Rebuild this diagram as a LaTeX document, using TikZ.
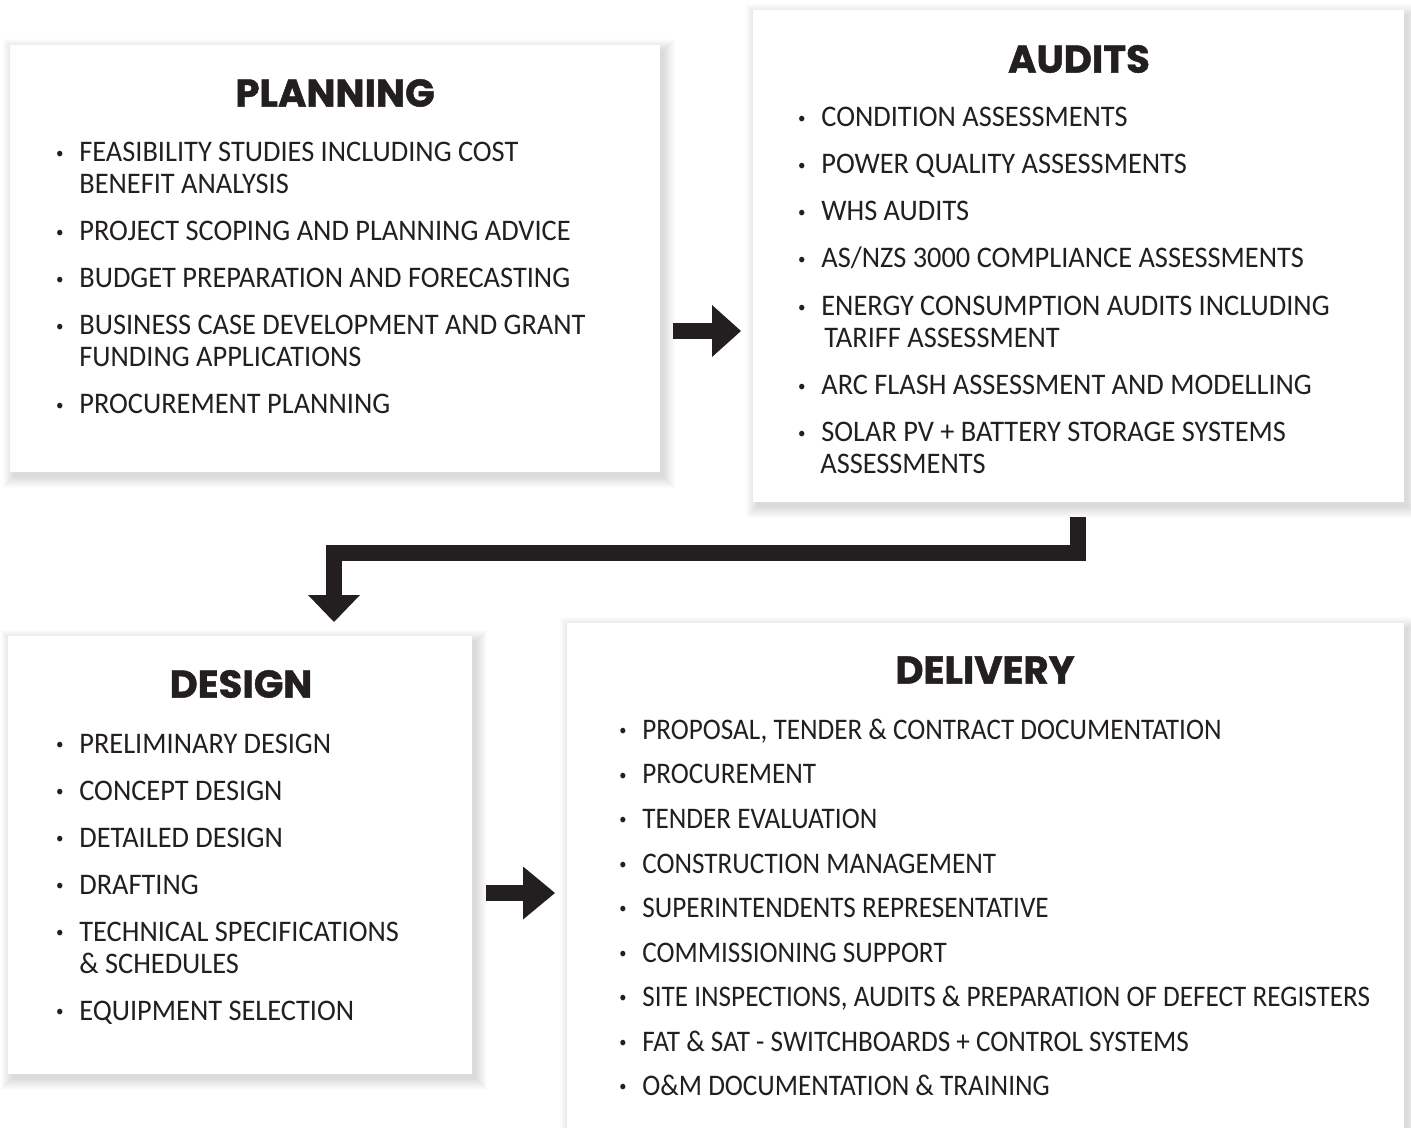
\documentclass[tikz,border=0pt]{standalone}
\usepackage{fontspec}
\setmainfont{Carlito}[FakeStretch=0.95]
\newfontfamily\delfont{Carlito}[FakeStretch=0.91]
\newfontfamily\headfont{Poppins}[FakeBold=1.2]
\usetikzlibrary{arrows.meta,backgrounds}
\definecolor{ink}{HTML}{231F20}
\tikzset{
  box/.style={fill=white, inner sep=0pt},
  head/.style={text=ink, font=\headfont\bfseries\fontsize{22}{24}\selectfont},
  item/.style={anchor=base west, inner sep=0pt, text=ink, font=\fontsize{17}{18}\selectfont},
  ditem/.style={item, font=\delfont\fontsize{17}{18}\selectfont},
  blk/.style={draw=ink, line width=0.32cm, line join=miter}
}
\newcommand{\bul}{\llap{\raisebox{2.2pt}{\fontsize{9}{9}\selectfont\textbullet}\hspace{9pt}}}
\begin{document}
\begin{tikzpicture}[x=0.02cm,y=-0.02cm]
  \useasboundingbox (0,0) rectangle (1411,1128);
  % boxes
  \node[box, minimum width=13cm, minimum height=8.54cm] (plan) at (335,258.5) {};
  \node[box, minimum width=13.02cm, minimum height=9.84cm] (audits) at (1078.5,256) {};
  \node[box, minimum width=9.28cm, minimum height=8.76cm] (design) at (240,855) {};
  \node[box, minimum width=16.74cm, minimum height=10.6cm] (delivery) at (985.5,888) {};
  % soft shadows
  \begin{scope}[on background layer]
    \fill[white] (0,0) rectangle (1411,1128);
    \foreach \b in {plan,audits,design,delivery}
      \foreach \i in {0,...,11}
        \fill[black, opacity=0.013] ([shift={(4-\i,5-\i)}]\b.north west) rectangle ([shift={(4+\i,5+\i)}]\b.south east);
  \end{scope}
  % planning
  \node[head] (tplan) at (335,93) {PLANNING};
  \node[item] (p1) at (79,162) {\bul FEASIBILITY STUDIES INCLUDING COST};
  \node[item] (p1b) at (79,194) {BENEFIT ANALYSIS};
  \node[item] (p2) at (79,241) {\bul PROJECT SCOPING AND PLANNING ADVICE};
  \node[item] (p3) at (79,288) {\bul BUDGET PREPARATION AND FORECASTING};
  \node[item] (p4) at (79,335) {\bul BUSINESS CASE DEVELOPMENT AND GRANT};
  \node[item] (p4b) at (79,367) {FUNDING APPLICATIONS};
  \node[item] (p5) at (79,414) {\bul PROCUREMENT PLANNING};
  % audits
  \node[head] (taud) at (1079,59) {AUDITS};
  \node[item] (a1) at (821,127) {\bul CONDITION ASSESSMENTS};
  \node[item] (a2) at (821,174) {\bul POWER QUALITY ASSESSMENTS};
  \node[item] (a3) at (821,221) {\bul WHS AUDITS};
  \node[item] (a4) at (821,268) {\bul AS/NZS 3000 COMPLIANCE ASSESSMENTS};
  \node[item] (a5) at (821,316) {\bul ENERGY CONSUMPTION AUDITS INCLUDING};
  \node[item] (a5b) at (824,348) {TARIFF ASSESSMENT};
  \node[item] (a6) at (821,395) {\bul ARC FLASH ASSESSMENT AND MODELLING};
  \node[item] (a7) at (821,442) {\bul SOLAR PV + BATTERY STORAGE SYSTEMS};
  \node[item] (a7b) at (820,474) {ASSESSMENTS};
  % design
  \node[head] (tdes) at (241,684) {DESIGN};
  \node[item] (d1) at (79,753) {\bul PRELIMINARY DESIGN};
  \node[item] (d2) at (79,800) {\bul CONCEPT DESIGN};
  \node[item] (d3) at (79,847) {\bul DETAILED DESIGN};
  \node[item] (d4) at (79,894) {\bul DRAFTING};
  \node[item] (d5) at (79,941) {\bul TECHNICAL SPECIFICATIONS};
  \node[item] (d5b) at (79,973) {\& SCHEDULES};
  \node[item] (d6) at (79,1020) {\bul EQUIPMENT SELECTION};
  % delivery
  \node[head] (tdel) at (985,670) {DELIVERY};
  \node[ditem] (v1) at (642,739) {\bul PROPOSAL, TENDER \& CONTRACT DOCUMENTATION};
  \node[ditem] (v2) at (642,784) {\bul PROCUREMENT};
  \node[ditem] (v3) at (642,828) {\bul TENDER EVALUATION};
  \node[ditem] (v4) at (642,873) {\bul CONSTRUCTION MANAGEMENT};
  \node[ditem] (v5) at (642,917) {\bul SUPERINTENDENTS REPRESENTATIVE};
  \node[ditem] (v6) at (642,962) {\bul COMMISSIONING SUPPORT};
  \node[ditem] (v7) at (642,1006) {\bul SITE INSPECTIONS, AUDITS \& PREPARATION OF DEFECT REGISTERS};
  \node[ditem] (v8) at (642,1051) {\bul FAT \& SAT - SWITCHBOARDS + CONTROL SYSTEMS};
  \node[ditem] (v9) at (642,1095) {\bul O\&M DOCUMENTATION \& TRAINING};
  % arrows
  \coordinate (r1s) at (673,331);
  \coordinate (r1e) at (741,331);
  \coordinate (r2s) at (486,893);
  \coordinate (r2e) at (555,893);
  \coordinate (e1) at (1078,517);
  \coordinate (ek) at (334,553);
  \coordinate (e2) at (334,622);
  \draw[blk, -{Triangle[length=0.58cm, width=1.04cm, line width=0pt]}, ink] (r1s) -- (r1e);
  \draw[blk, -{Triangle[length=0.64cm, width=1.06cm, line width=0pt]}, ink] (r2s) -- (r2e);
  \draw[blk, -{Triangle[length=0.54cm, width=1.04cm, line width=0pt]}, ink] (e1) |- (ek) -- (e2);
\end{tikzpicture}
\end{document}
